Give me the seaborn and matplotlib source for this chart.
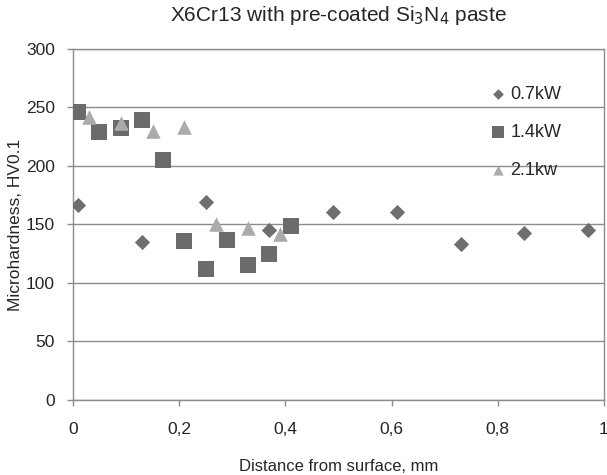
import matplotlib
matplotlib.use("Agg")
import matplotlib.pyplot as plt
import seaborn as sns
import pandas as pd
from matplotlib.ticker import FuncFormatter

sns.set_style("white")
plt.rcParams['font.family'] = ['Liberation Sans', 'DejaVu Sans']

x_07 = [0.01, 0.13, 0.25, 0.37, 0.49, 0.61, 0.73, 0.85, 0.97]
y_07 = [167, 135, 169, 145, 161, 161, 133, 143, 145]
x_14 = [0.01, 0.05, 0.09, 0.13, 0.17, 0.21, 0.25, 0.29, 0.33, 0.37, 0.41]
y_14 = [246, 229, 232, 239, 205, 136, 112, 137, 115, 125, 149]
x_21 = [0.03, 0.09, 0.15, 0.21, 0.27, 0.33, 0.39]
y_21 = [242, 237, 230, 233, 150, 147, 142]
labels = ["0.7kW", "1.4kW", "2.1kw"]

df = pd.concat([
    pd.DataFrame({"x": x_07, "y": y_07, "s": labels[0]}),
    pd.DataFrame({"x": x_14, "y": y_14, "s": labels[1]}),
    pd.DataFrame({"x": x_21, "y": y_21, "s": labels[2]}),
])

fig = plt.figure(figsize=(6.07, 4.75), dpi=100)
ax = fig.add_axes([0.120, 0.158, 0.875, 0.739])

colors = {labels[0]: "#6e6e6e", labels[1]: "#6b6b6b", labels[2]: "#ababab"}
markers = {labels[0]: "D", labels[1]: "s", labels[2]: "^"}
sizes = {labels[0]: 60, labels[1]: 130, labels[2]: 110}
for lab in labels:
    sub = df[df.s == lab]
    sns.scatterplot(data=sub, x="x", y="y", ax=ax, color=colors[lab],
                    marker=markers[lab], s=sizes[lab], linewidth=0,
                    label=lab, zorder=3)

ax.set_xlim(0, 1)
ax.set_ylim(0, 300)
ax.set_xticks([0, 0.2, 0.4, 0.6, 0.8, 1.0])
ax.set_yticks(range(0, 301, 50))
ax.xaxis.set_major_formatter(FuncFormatter(lambda v, p: ("%g" % round(v, 1)).replace(".", ",")))
ax.yaxis.grid(True, color="#8c8c8c", linewidth=1)
ax.set_axisbelow(True)
for sp in ax.spines.values():
    sp.set_color("#8c8c8c")
    sp.set_linewidth(1)
ax.tick_params(axis="both", which="major", length=4, width=1, color="#8c8c8c",
               labelsize=12.5, direction="out", bottom=True, left=True)
ax.tick_params(axis="x", pad=12)
ax.tick_params(axis="y", pad=9)

ax.set_xlabel("Distance from surface, mm", fontsize=12, labelpad=16)
ax.set_ylabel("Microhardness, HV0.1", fontsize=12.5, labelpad=2)
ax.set_title("X6Cr13 with pre-coated Si$_3$N$_4$ paste", fontsize=15, pad=20)

leg = ax.legend(loc="upper left", bbox_to_anchor=(0.752, 0.915), frameon=False,
                fontsize=13, handletextpad=-0.3, labelspacing=1.15,
                markerscale=0.7, borderaxespad=0)

fig.savefig("out.png", dpi=100)
